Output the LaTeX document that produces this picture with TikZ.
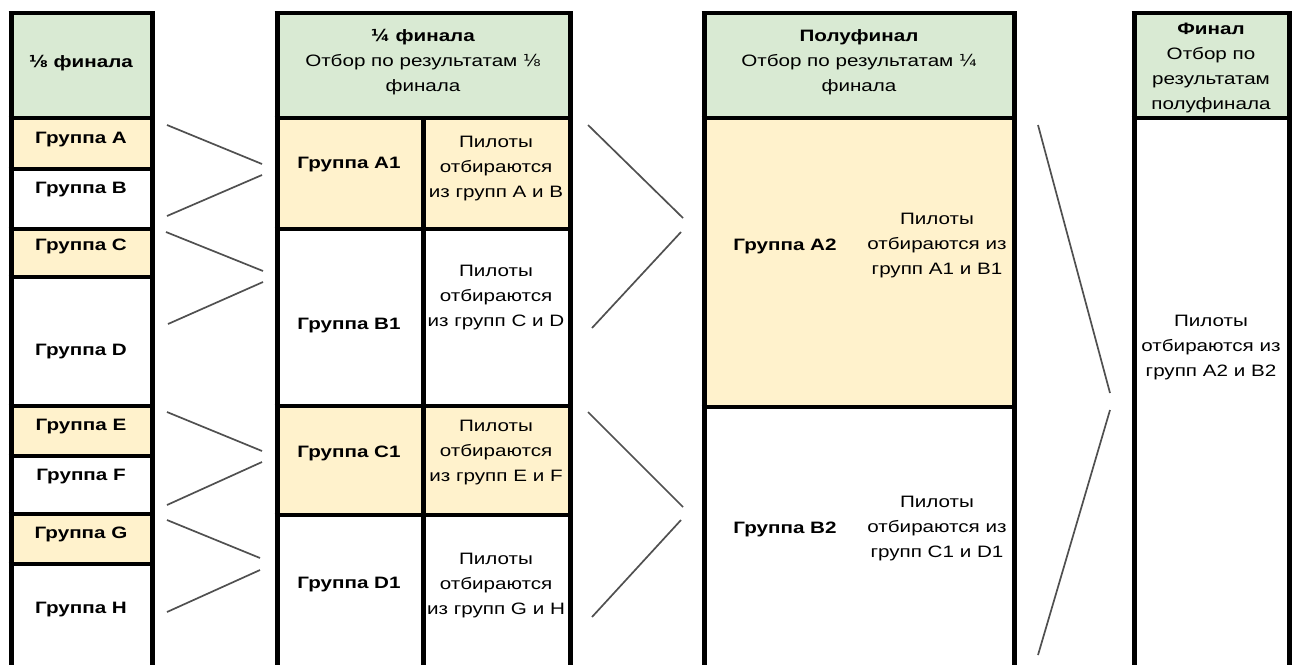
\documentclass[tikz,border=0pt]{standalone}
\usepackage{fontspec}
\setmainfont{Liberation Sans}[FakeStretch=1.25]
\newfontfamily\fracfont{DejaVu Sans}[FakeStretch=1.1]
\newcommand{\frE}{{\fracfont ⅛}}
\newcommand{\frQ}{{\fracfont ¼}}
\definecolor{hdr}{HTML}{D9EAD3}
\definecolor{yel}{HTML}{FFF2CC}
\definecolor{ln}{HTML}{505050}
\begin{document}
\begin{tikzpicture}[x=1pt,y=-1pt,
  txt/.style={font=\fontsize{16.5}{25}\selectfont, align=center, inner sep=0pt},
  btxt/.style={font=\fontsize{16.5}{25}\selectfont\bfseries, align=center, inner sep=0pt},
  vb/.style={line width=5pt},
  hb/.style={line width=4pt},
  conn/.style={draw=ln, line width=1.7pt},
]
\useasboundingbox (0,0) rectangle (1292,665);
% fills
\fill[hdr] (11,13) rectangle (152,118);
\fill[yel] (11,118) rectangle (152,169);
\fill[yel] (11,229) rectangle (152,277);
\fill[yel] (11,406) rectangle (152,456);
\fill[yel] (11,514) rectangle (152,564);
\fill[hdr] (277,13) rectangle (570,118);
\fill[yel] (277,118) rectangle (570,229);
\fill[yel] (277,406) rectangle (570,515);
\fill[hdr] (704,13) rectangle (1014,118);
\fill[yel] (704,118) rectangle (1014,407);
\fill[hdr] (1134,13) rectangle (1289,118);
% column 1 borders
\foreach \x in {11,152} \draw[vb] (\x,11) -- (\x,665);
\foreach \y in {13,118,169,229,277,406,456,514,564} \draw[hb] (8.5,\y) -- (154.5,\y);
% column 2 borders
\foreach \x in {277,570} \draw[vb] (\x,11) -- (\x,665);
\draw[vb] (423,118) -- (423,665);
\foreach \y in {13,118,229,406,515} \draw[hb] (274.5,\y) -- (572.5,\y);
% column 3 borders
\foreach \x in {704,1014} \draw[vb] (\x,11) -- (\x,665);
\foreach \y in {13,118,407} \draw[hb] (701.5,\y) -- (1016.5,\y);
% column 4 borders
\foreach \x in {1134,1289} \draw[vb] (\x,11) -- (\x,665);
\foreach \y in {13,118} \draw[hb] (1131.5,\y) -- (1291.5,\y);

% column 1 texts
\node[btxt] (h1) at (81,63.5) {\frE{} финала};
\node[btxt] (gA) at (81,139.5) {Группа A};
\node[btxt] (gB) at (81,189.5) {Группа B};
\node[btxt] (gC) at (81,246.5) {Группа C};
\node[btxt] (gD) at (81,351.5) {Группа D};
\node[btxt] (gE) at (81,426.5) {Группа E};
\node[btxt] (gF) at (81,476.5) {Группа F};
\node[btxt] (gG) at (81,534.5) {Группа G};
\node[btxt] (gH) at (81,609.5) {Группа H};

% column 2 texts
\node[txt] (h2) at (423,62) {\textbf{\frQ{} финала}\\Отбор по результатам \frE\\финала};
\node[btxt] (gA1) at (349,165) {Группа A1};
\node[txt] (pA1) at (496,169) {Пилоты\\отбираются\\из групп A и B};
\node[btxt] (gB1) at (349,326) {Группа B1};
\node[txt] (pB1) at (496,298) {Пилоты\\отбираются\\из групп C и D};
\node[btxt] (gC1) at (349,453) {Группа C1};
\node[txt] (pC1) at (496,453) {Пилоты\\отбираются\\из групп E и F};
\node[btxt] (gD1) at (349,585) {Группа D1};
\node[txt] (pD1) at (496,586) {Пилоты\\отбираются\\из групп G и H};

% column 3 texts
\node[txt] (h3) at (859,62) {\textbf{Полуфинал}\\Отбор по результатам \frQ\\финала};
\node[btxt] (gA2) at (785,246.5) {Группа A2};
\node[txt] (pA2) at (937,246) {Пилоты\\отбираются из\\групп A1 и B1};
\node[btxt] (gB2) at (785,529.5) {Группа B2};
\node[txt] (pB2) at (937,529) {Пилоты\\отбираются из\\групп C1 и D1};

% column 4 texts
\node[txt] (h4) at (1211,68) {\textbf{Финал}\\Отбор по\\результатам\\полуфинала};
\node[txt] (pF) at (1211,348) {Пилоты\\отбираются из\\групп A2 и B2};

% connector end points
\coordinate (cA) at (167,125);  \coordinate (tA1a) at (262,164);
\coordinate (tA1b) at (262,175); \coordinate (cB) at (167,216);
\coordinate (cC) at (166,232);  \coordinate (tB1a) at (263,271);
\coordinate (tB1b) at (263,282); \coordinate (cD) at (168,324);
\coordinate (cE) at (167,412);  \coordinate (tC1a) at (262,451);
\coordinate (tC1b) at (262,462); \coordinate (cF) at (167,505);
\coordinate (cG) at (167,520);  \coordinate (tD1a) at (260,558);
\coordinate (tD1b) at (260,570); \coordinate (cH) at (167,612);
\coordinate (cA1) at (588,125); \coordinate (tA2a) at (683,218);
\coordinate (tA2b) at (681,232); \coordinate (cB1) at (592,328);
\coordinate (cC1) at (588,412); \coordinate (tB2a) at (683,507);
\coordinate (tB2b) at (681,520); \coordinate (cD1) at (592,617);
\coordinate (cA2) at (1038,125); \coordinate (tFa) at (1110,393);
\coordinate (tFb) at (1110,410); \coordinate (cB2) at (1038,655);

\draw[conn] (cA) -- (tA1a);
\draw[conn] (tA1b) -- (cB);
\draw[conn] (cC) -- (tB1a);
\draw[conn] (tB1b) -- (cD);
\draw[conn] (cE) -- (tC1a);
\draw[conn] (tC1b) -- (cF);
\draw[conn] (cG) -- (tD1a);
\draw[conn] (tD1b) -- (cH);
\draw[conn] (cA1) -- (tA2a);
\draw[conn] (tA2b) -- (cB1);
\draw[conn] (cC1) -- (tB2a);
\draw[conn] (tB2b) -- (cD1);
\draw[conn] (cA2) -- (tFa);
\draw[conn] (tFb) -- (cB2);
\end{tikzpicture}
\end{document}
